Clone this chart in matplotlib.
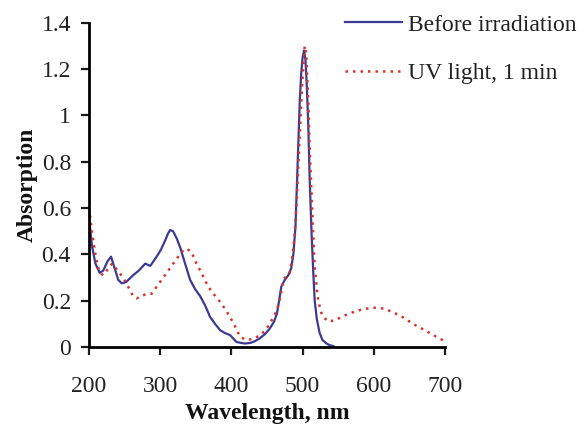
import matplotlib.pyplot as plt

plt.rcParams['font.family'] = ['Liberation Serif', 'DejaVu Serif']

# Before irradiation
wl_before = [200, 204, 209, 215, 220, 226, 231, 236, 241, 246, 252, 262, 270, 279, 286, 295,
             301, 307, 311, 314, 318, 323, 328, 335, 342, 349, 356, 363, 370, 377, 384, 391,
             398, 407, 413, 419, 427, 433, 440, 447, 454, 460, 464, 467, 470, 475, 480, 484,
             487, 490, 492, 494, 496, 498, 500, 502, 504, 506, 508, 510, 512.6, 515, 517,
             520, 524, 528, 533.6, 538, 543]
abs_before = [0.56, 0.44, 0.36, 0.32, 0.33, 0.37, 0.39, 0.34, 0.29, 0.275, 0.28, 0.31, 0.33, 0.36,
              0.35, 0.39, 0.42, 0.46, 0.49, 0.505, 0.50, 0.47, 0.43, 0.36, 0.29, 0.25, 0.22, 0.18,
              0.13, 0.10, 0.073, 0.06, 0.052, 0.022, 0.018, 0.015, 0.018, 0.025, 0.038, 0.055, 0.08,
              0.11, 0.145, 0.20, 0.26, 0.29, 0.31, 0.34, 0.40, 0.52, 0.70, 0.88, 1.06, 1.18, 1.25,
              1.28, 1.24, 1.12, 0.95, 0.72, 0.49, 0.32, 0.20, 0.12, 0.06, 0.03, 0.015, 0.008, 0.004]

# UV light, 1 min
wl_uv = [200, 205, 210, 215, 220, 225, 229, 233, 240, 248, 255, 262, 267, 274, 281, 288, 295,
         302, 309, 316, 323, 330, 337, 344, 351, 358, 365, 372, 384, 391, 398, 405, 412, 421,
         430, 440, 447, 454, 459, 464, 469, 473, 478, 482, 486, 489, 492, 495, 498, 501, 503,
         505, 508, 510, 513, 515, 517, 520, 522, 526, 529, 536, 545, 555, 562, 575, 585, 595,
         604, 615, 627, 640, 655, 667, 679, 690, 700]
abs_uv = [0.60, 0.48, 0.38, 0.32, 0.31, 0.33, 0.35, 0.36, 0.33, 0.30, 0.26, 0.22, 0.21, 0.22,
          0.23, 0.23, 0.26, 0.29, 0.32, 0.35, 0.38, 0.41, 0.425, 0.41, 0.36, 0.32, 0.275, 0.24,
          0.195, 0.165, 0.13, 0.09, 0.045, 0.03, 0.035, 0.05, 0.07, 0.10, 0.13, 0.16, 0.22,
          0.29, 0.31, 0.32, 0.40, 0.49, 0.65, 0.85, 1.05, 1.22, 1.30, 1.27, 1.06, 0.85, 0.63,
          0.48, 0.35, 0.25, 0.20, 0.15, 0.13, 0.11, 0.115, 0.13, 0.14, 0.155, 0.163, 0.168,
          0.17, 0.165, 0.15, 0.13, 0.10, 0.08, 0.06, 0.04, 0.025]

fig = plt.figure(figsize=(5.84, 4.33), dpi=100)
ax = fig.add_axes([0.1524, 0.1986, 0.6096, 0.749])

ax.plot(wl_before, abs_before, color='#3b3b96', lw=1.6, label='Before irradiation')
ax.plot(wl_uv, abs_uv, color='#d9342b', lw=1.8, linestyle=(0, (1, 2)), label='UV light, 1 min')

ax.set_xlim(200, 700)
ax.set_ylim(0, 1.4)
ax.set_xticks([200, 300, 400, 500, 600, 700])
ax.set_yticks([0, 0.2, 0.4, 0.6, 0.8, 1.0, 1.2, 1.4])
ax.set_yticklabels(['0', '0.2', '0.4', '0.6', '0.8', '1', '1.2', '1.4'])

for s in ['top', 'right']:
    ax.spines[s].set_visible(False)
for s in ['left', 'bottom']:
    ax.spines[s].set_linewidth(2)
ax.tick_params(axis='both', direction='out', length=6, width=1.6, labelsize=17,
               colors='#1a1a1a', labelcolor='#222222')
ax.tick_params(axis='x', pad=15)
ax.tick_params(axis='y', pad=7)

ax.set_xlabel('Wavelength, nm', fontsize=17, fontweight='bold', labelpad=4, color='#111111')
ax.set_ylabel('Absorption', fontsize=17, fontweight='bold', labelpad=3, color='#111111')

fig.legend(loc='upper left', bbox_to_anchor=(345 / 584, 1 - 14 / 433), frameon=False,
           fontsize=17, handlelength=2.4, handletextpad=0.25, borderpad=0,
           borderaxespad=0, labelspacing=1.15, labelcolor='#222222')

fig.savefig('out.png', dpi=100)
